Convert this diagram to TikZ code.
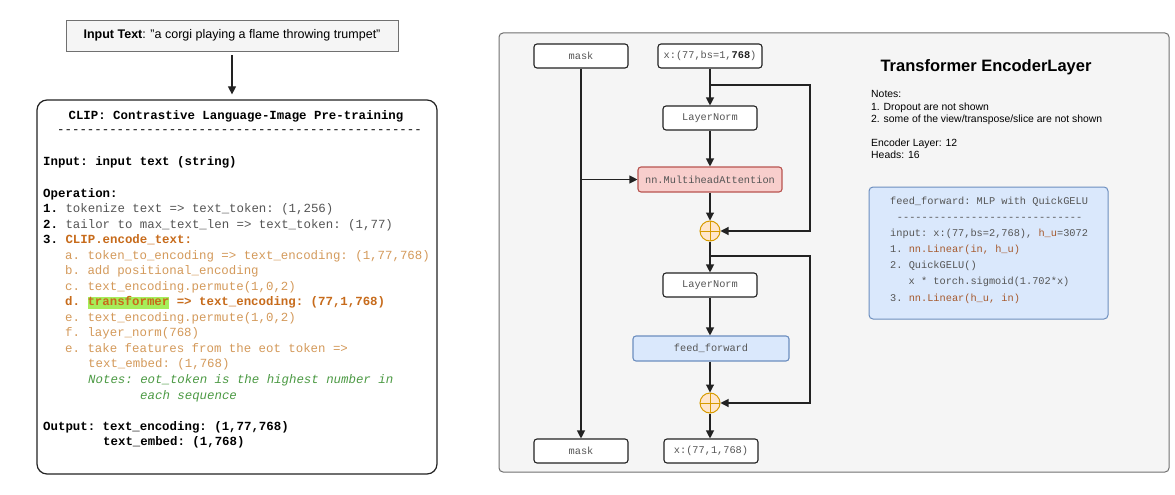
\documentclass[tikz,border=0pt]{standalone}
\usepackage{fontspec}
\setmainfont{Liberation Sans}
\setmonofont{Liberation Mono}
\usetikzlibrary{arrows.meta}

\definecolor{txtgray}{HTML}{555555}
\definecolor{linedark}{HTML}{222222}
\definecolor{orgdark}{HTML}{C76B1B}
\definecolor{orglight}{HTML}{D49A5B}
\definecolor{hlgreen}{HTML}{A6EE5A}
\definecolor{notegreen}{HTML}{4C9A44}
\definecolor{brn}{HTML}{A65A2E}
\definecolor{panelfill}{HTML}{F5F5F5}
\definecolor{panelline}{HTML}{707070}
\definecolor{redfill}{HTML}{F8CECC}
\definecolor{redline}{HTML}{B85450}
\definecolor{bluefill}{HTML}{DAE8FC}
\definecolor{blueline}{HTML}{6C8EBF}
\definecolor{plusfill}{HTML}{FFE6CC}
\definecolor{plusline}{HTML}{D79B00}

\newcommand\clipfont{\fontsize{12.4}{15}\selectfont\ttfamily}
\newcommand\monoS{\fontsize{10.3}{12}\selectfont\ttfamily}
\newcommand\notefont{\fontsize{10.4}{12}\selectfont}
\newcommand\hlword[1]{\rlap{\textcolor{hlgreen}{\rule[-2.8pt]{81.8pt}{11.8pt}}}#1}

\tikzset{
  cl/.style={anchor=base west, inner sep=0pt, font=\clipfont},
  ml/.style={anchor=base west, inner sep=0pt, font=\monoS, text=txtgray},
  nl/.style={anchor=base west, inner sep=0pt, font=\notefont, text=black},
  blk/.style={draw=linedark, line width=1.1pt, fill=white, rounded corners=3pt,
    minimum width=94pt, minimum height=24pt, inner sep=0pt, font=\monoS, text=txtgray},
  conn/.style={draw=linedark, line width=1.1pt, -{Triangle[length=8pt,width=8pt]}},
  addop/.style={circle, draw=plusline, line width=1pt, fill=plusfill, minimum size=20pt,
    inner sep=0pt,
    path picture={\draw[plusline, line width=1pt]
      (path picture bounding box.north) -- (path picture bounding box.south)
      (path picture bounding box.west) -- (path picture bounding box.east);}},
}

\begin{document}
\begin{tikzpicture}[x=1pt,y=-1pt]
\useasboundingbox[fill=white] (0,0) rectangle (1175,495);

% ---------- input text ----------
\node[draw=panelline, line width=0.9pt, fill=panelfill, minimum width=332pt, minimum height=31pt,
      inner sep=0pt, font=\fontsize{12.5}{14}\selectfont] (inp) at (232,35.5)
  {\textbf{Input Text}: "a corgi playing a flame throwing trumpet"};

% ---------- CLIP box ----------
\node[draw=linedark, line width=1.2pt, fill=white, rounded corners=10pt,
      minimum width=400pt, minimum height=374pt, inner sep=0pt] (clip) at (237,287) {};
\draw[conn, shorten <=4pt, shorten >=5pt] (inp.south) -- (inp.south |- clip.north);

\node[cl, anchor=base, font=\clipfont\bfseries] (c0) at (236,119.7) {CLIP: Contrastive Language-Image Pre-training};
\node[cl] (c1) at (57,133) {-------------------------------------------------};
\node[cl, font=\clipfont\bfseries] (c2) at (43,165.7) {Input: input text (string)};
\node[cl, font=\clipfont\bfseries] (c3) at (43,197.3) {Operation:};
\node[cl] (c4) at (43,212.3) {\textbf{1.} \textcolor{txtgray}{tokenize text => text\_token: (1,256)}};
\node[cl] (c5) at (43,228) {\textbf{2.} \textcolor{txtgray}{tailor to max\_text\_len => text\_token: (1,77)}};
\node[cl] (c6) at (43,243.3) {\textbf{3.} \textcolor{orgdark}{\bfseries CLIP.encode\_text:}};
\node[cl, text=orglight] (c7) at (65,259.7) {a. token\_to\_encoding => text\_encoding: (1,77,768)};
\node[cl, text=orglight] (c8) at (65,274.7) {b. add positional\_encoding};
\node[cl, text=orglight] (c9) at (65,290) {c. text\_encoding.permute(1,0,2)};
\node[cl, text=orgdark, font=\clipfont\bfseries] (c10) at (65,305.7) {d. \hlword{transformer} => text\_encoding: (77,1,768)};
\node[cl, text=orglight] (c11) at (65,321.3) {e. text\_encoding.permute(1,0,2)};
\node[cl, text=orglight] (c12) at (65,336.3) {f. layer\_norm(768)};
\node[cl, text=orglight] (c13) at (65,352.3) {e. take features from the eot token =>};
\node[cl, text=orglight] (c14) at (88,367.3) {text\_embed: (1,768)};
\node[cl, text=notegreen, font=\clipfont\itshape] (c15) at (88,383.3) {Notes: eot\_token is the highest number in};
\node[cl, text=notegreen, font=\clipfont\itshape] (c16) at (140,399) {each sequence};
\node[cl, font=\clipfont\bfseries] (c17) at (43,430) {Output: text\_encoding: (1,77,768)};
\node[cl, font=\clipfont\bfseries] (c18) at (103,445.7) {text\_embed: (1,768)};

% ---------- encoder layer panel ----------
\node[draw=panelline, line width=1pt, fill=panelfill, rounded corners=4pt,
      minimum width=670pt, minimum height=439pt, inner sep=0pt] (enc) at (834,252.5) {};

\node[blk] (masktop) at (581,56) {mask};
\node[blk, minimum width=104pt] (xin) at (710,56) {x:(77,bs=1,\textbf{\textcolor{linedark}{768}})};
\node[blk] (ln1) at (710,118) {LayerNorm};
\node[blk, draw=redline, fill=redfill, minimum width=144pt, minimum height=25pt] (mha) at (710,179.5) {nn.MultiheadAttention};
\node[addop] (add1) at (710,231) {};
\node[blk] (ln2) at (710,285) {LayerNorm};
\node[blk, draw=blueline, fill=bluefill, minimum width=156pt, minimum height=25pt] (ff) at (711,348.5) {feed\_forward};
\node[addop] (add2) at (710,403) {};
\node[blk] (maskbot) at (581,451) {mask};
\node[blk] (xout) at (711,451) {x:(77,1,768)};

\coordinate (skipA) at (810,85);
\coordinate (skipB) at (810,256);

\draw[conn] (xin) -- (ln1);
\draw[conn] (xin.south |- skipA) -- (skipA) |- (add1.east);
\draw[conn] (ln1) -- (mha);
\draw[conn] (mha) -- (add1);
\draw[conn] (add1) -- (ln2);
\draw[conn] (add1.south |- skipB) -- (skipB) |- (add2.east);
\draw[conn] (ln2) -- (ln2 |- ff.north);
\draw[conn] (ff.south -| add2) -- (add2);
\draw[conn] (add2) -- (add2 |- xout.north);
\draw[conn] (masktop) -- (maskbot);
\draw[conn] (masktop.south |- mha.west) -- (mha.west);

% title and notes
\node[anchor=base, inner sep=0pt, font=\fontsize{16.5}{19}\selectfont\bfseries] (ttl) at (986,71) {Transformer EncoderLayer};
\node[nl] (n1) at (871,97.7) {Notes:};
\node[nl] (n2) at (871,110.4) {1. Dropout are not shown};
\node[nl] (n3) at (871,122.4) {2. some of the view/transpose/slice are not shown};
\node[nl] (n4) at (871,146.4) {Encoder Layer: 12};
\node[nl] (n5) at (871,158.7) {Heads: 16};

% feed_forward detail
\node[draw=blueline, line width=1pt, fill=bluefill, rounded corners=4pt,
      minimum width=239pt, minimum height=132pt, inner sep=0pt] (ffbox) at (988.5,253) {};
\node[ml] (b1) at (890,204.4) {feed\_forward: MLP with QuickGELU};
\node[ml] (b2) at (896.7,220) {------------------------------};
\node[ml] (b3) at (890,236.7) {input: x:(77,bs=2,768), \textcolor{brn}{h\_u}=3072};
\node[ml] (b4) at (890,252.7) {1. \textcolor{brn}{nn.Linear(in, h\_u)}};
\node[ml] (b5) at (890,268.7) {2. QuickGELU()};
\node[ml] (b6) at (908.5,284.4) {x * torch.sigmoid(1.702*x)};
\node[ml] (b7) at (890,301) {3. \textcolor{brn}{nn.Linear(h\_u, in)}};
\end{tikzpicture}
\end{document}
